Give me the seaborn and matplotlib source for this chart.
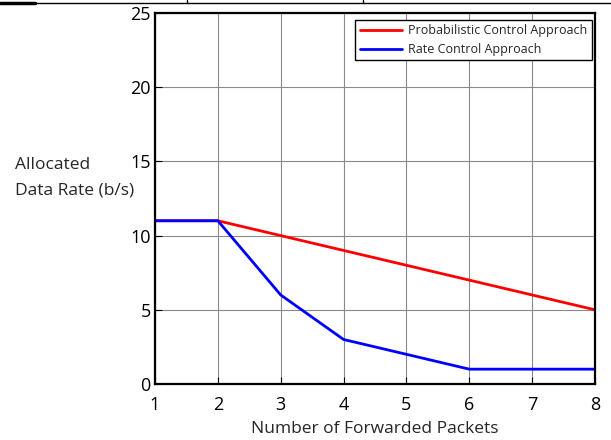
import matplotlib
matplotlib.use("Agg")
import matplotlib.pyplot as plt
import seaborn as sns
import pandas as pd
from matplotlib.lines import Line2D

packets = [1, 2, 3, 4, 5, 6, 7, 8]
prob_rate = [11, 11, 10, 9, 8, 7, 6, 5]
rate_ctrl = [11, 11, 6, 3, 2, 1, 1, 1]
series_names = ["Probabilistic Control Approach", "Rate Control Approach"]
y_ticks = [0, 5, 10, 15, 20, 25]
y_label_lines = ["Allocated", "Data Rate (b/s)"]

sns.set_style("white")
plt.rcParams['font.family'] = ['Open Sans', 'DejaVu Sans']

df = pd.DataFrame({
    "x": packets * 2,
    "y": prob_rate + rate_ctrl,
    "series": [series_names[0]] * len(packets) + [series_names[1]] * len(packets),
})

fig = plt.figure(figsize=(6.11, 4.40), dpi=100)
ax = fig.add_axes([155/611, 1 - 384/440, 440/611, 371/440])

sns.lineplot(data=df, x="x", y="y", hue="series",
             palette={series_names[0]: "#ff0000", series_names[1]: "#0000ff"},
             linewidth=2, ax=ax, legend=False)

ax.set_xlim(1, 8)
ax.set_ylim(0, 25)
ax.set_xticks(packets)
ax.set_yticks(y_ticks)
ax.grid(True, color="#8a8a8a", linewidth=0.8)
ax.set_axisbelow(True)
ax.tick_params(axis="both", direction="in", length=5, width=0.8, labelsize=13,
               colors="black", left=True, bottom=True)
ax.tick_params(axis="y", pad=3)
ax.tick_params(axis="x", pad=9)
for s in ax.spines.values():
    s.set_color("black")
    s.set_linewidth(1.6)

ax.set_xlabel("Number of Forwarded Packets", fontsize=12.5, labelpad=5)
ax.set_ylabel("")
for i, (line, ypx) in enumerate(zip(y_label_lines, [165, 190])):
    fig.text(15/611, 1 - ypx/440, line, fontsize=12.5, ha="left", va="center")

handles = [Line2D([0], [0], color="#ff0000", lw=2), Line2D([0], [0], color="#0000ff", lw=2)]
leg = ax.legend(handles, series_names, loc="upper right", fontsize=9,
                bbox_to_anchor=(1 - 3/440, 1 - 7/371), borderaxespad=0,
                frameon=True, fancybox=False, edgecolor="black", framealpha=1,
                handlelength=3.4, handletextpad=0.5, borderpad=0.35,
                labelspacing=0.45)
leg.get_frame().set_linewidth(1.0)

# top border artifact
fig.add_artist(Line2D([0, 1], [1 - 3/440, 1 - 3/440], color="black", lw=1, transform=fig.transFigure))
fig.add_artist(Line2D([0, 35/611], [1 - 3/440, 1 - 3/440], color="black", lw=2.5, transform=fig.transFigure))
for xp in [187, 363]:
    fig.add_artist(Line2D([xp/611, xp/611], [1 - 3/440, 1], color="black", lw=1, transform=fig.transFigure))

fig.savefig("out.png", dpi=100)
